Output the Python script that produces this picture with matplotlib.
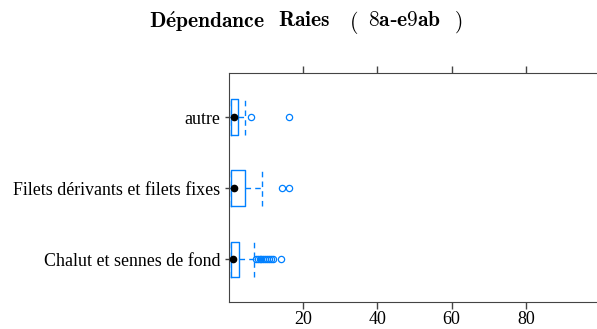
import matplotlib
matplotlib.use("Agg")
import matplotlib.pyplot as plt

# categories, bottom to top
categories = ['Chalut et sennes de fond', 'Filets dérivants et filets fixes', 'autre']
q1 = [0.6, 0.5, 0.6]
med = [1.2, 1.5, 1.5]
q3 = [2.8, 4.3, 2.6]
whislo = [0.0, 0.0, 0.0]
whishi = [6.7, 8.9, 4.4]
fliers = [
    [7.3, 7.8, 8.3, 8.8, 9.3, 9.8, 10.3, 10.8, 11.3, 11.8, 14.2],
    [14.3, 16.2],
    [6.0, 16.2],
]
xticks = [20, 40, 60, 80]
title_parts = [r'$\mathbf{D\acute{e}pendance}$', r'$\mathbf{Raies}$', r'$\mathbf{(}$',
               r'$\mathbf{8a}$-$\mathbf{e9ab}$', r'$\mathbf{)}$']
title_x = [207, 304, 354, 404, 458]  # pixel centres of the title words

blue = '#0080ff'
plt.rcParams['font.family'] = ['Liberation Serif', 'DejaVu Serif']
plt.rcParams['mathtext.fontset'] = 'cm'

fig = plt.figure(figsize=(5.97, 3.29), dpi=100)
# axes extends beyond the right edge, like the cropped original
ax = fig.add_axes([228.7 / 597, 27 / 329, 390 / 597, 229 / 329])

pos = list(range(1, len(categories) + 1))
stats = []
for i in range(len(categories)):
    stats.append(dict(q1=q1[i], med=med[i], q3=q3[i], whislo=whislo[i],
                      whishi=whishi[i], fliers=fliers[i]))

ax.bxp(stats, positions=pos, orientation='horizontal', widths=0.5,
       capwidths=0.5,
       boxprops=dict(color=blue, linewidth=1.0),
       whiskerprops=dict(color=blue, linewidth=1.0, linestyle=(0, (4, 3))),
       capprops=dict(color=blue, linewidth=1.0, linestyle=(0, (4, 3))),
       medianprops=dict(visible=False),
       flierprops=dict(marker='o', markersize=4.5, markerfacecolor='none',
                       markeredgecolor=blue, markeredgewidth=0.9))
ax.plot(med, pos, 'o', color='black', markersize=4.5, zorder=5)

ax.set_xlim(0, 105)
ax.set_ylim(0.4, 3.62)
ax.set_xticks(xticks)
ax.set_xticklabels([str(t) for t in xticks], fontsize=13)
ax.set_yticks(pos)
ax.set_yticklabels(categories, fontsize=12.9)
ax.tick_params(axis='x', direction='out', length=5, top=True, labeltop=False,
               width=1, color='#444444', pad=1.5)
ax.tick_params(axis='y', direction='out', length=3, width=1, color='#444444', pad=3)
for s in ax.spines.values():
    s.set_color('#444444')

for txt, px in zip(title_parts, title_x):
    fig.text(px / 597, 1 - 22 / 329, txt, ha='center', va='center', fontsize=15.5)

fig.savefig('out.png', dpi=100)
